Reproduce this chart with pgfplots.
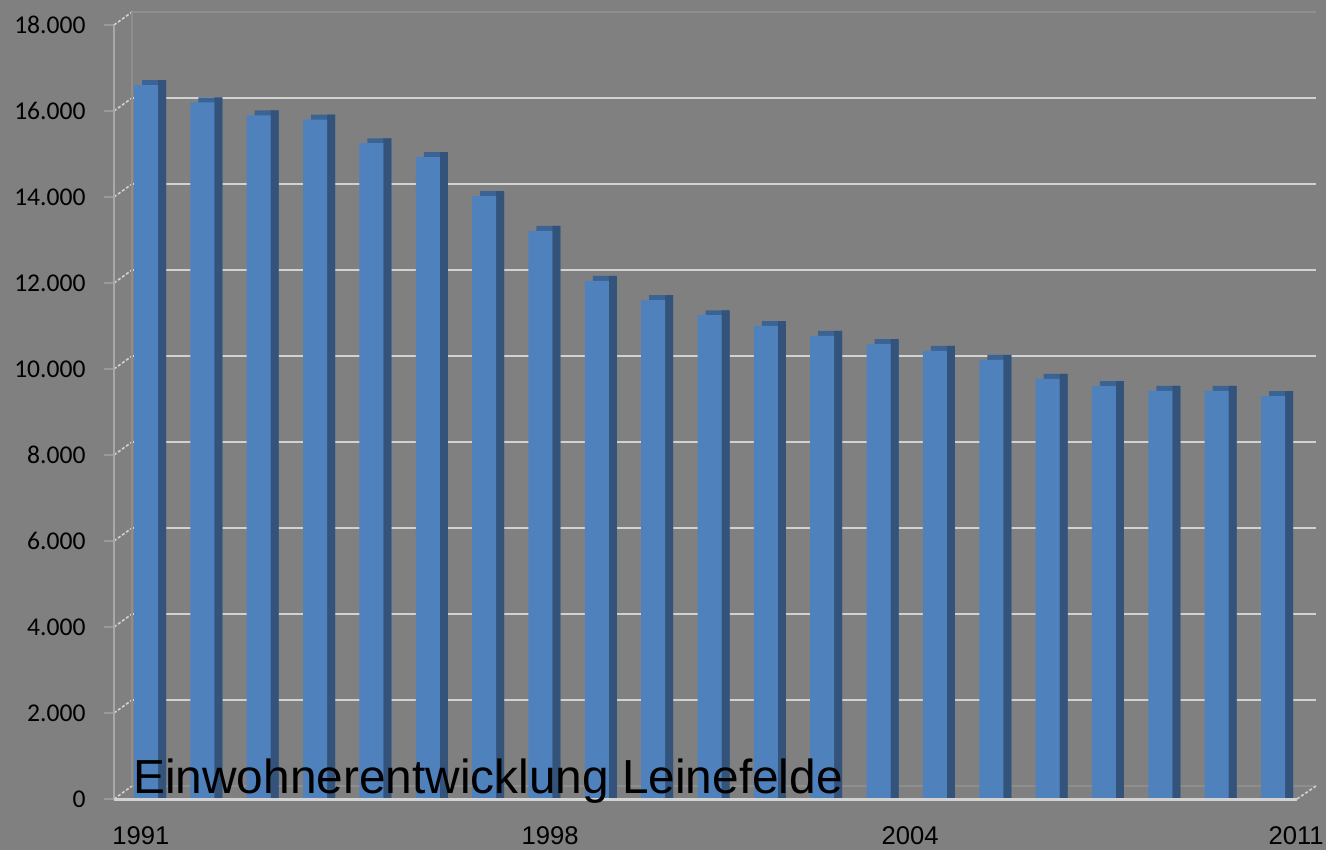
\documentclass[border=0pt]{standalone}
\usepackage{fontspec}
\setmainfont{Liberation Sans}
\newfontfamily\carlito{Carlito}
\usepackage{pgfplots}
\usepackage{pgfplotstable}
\pgfplotsset{compat=1.18}
\definecolor{bg}{HTML}{808080}
\definecolor{frontc}{HTML}{4F81BD}
\definecolor{sidec}{HTML}{34537B}
\definecolor{topc}{HTML}{3B6495}
\definecolor{gridc}{HTML}{D2D2D2}
\definecolor{faintc}{HTML}{8E8E8E}
\definecolor{axc}{HTML}{A8A8A8}
\definecolor{tickc}{HTML}{9A9A9A}

\pgfplotstableread{
i year v
0 1991 16600
1 1992 16200
2 1993 15900
3 1994 15800
4 1995 15250
5 1996 14930
6 1997 14020
7 1998 13210
8 1999 12050
9 2000 11600
10 2001 11250
11 2002 11000
12 2003 10770
13 2004 10580
14 2005 10420
15 2006 10210
16 2007 9770
17 2008 9600
18 2009 9490
19 2010 9490
20 2011 9370
}\data

\begin{document}
\begin{tikzpicture}
\fill[bg] (-57pt,-25.5pt) rectangle (606pt,399.5pt);
\useasboundingbox (-57pt,-25.5pt) rectangle (606pt,399.5pt);
\begin{axis}[
  at={(0pt,0pt)}, anchor=south west,
  scale only axis, width=591.5pt, height=387pt,
  xmin=-0.568, xmax=20.426, ymin=0, ymax=18000,
  clip=false,
  axis line style={draw=none},
  scaled y ticks=false,
  ytick={0,2000,4000,6000,8000,10000,12000,14000,16000,18000},
  ytick pos=left,
  tick align=outside,
  major tick length=5pt,
  ytick style={draw=tickc, line width=1pt},
  xtick={-0.09,7.17,13.56,20.41},
  xticklabels={1991,1998,2004,2011},
  xtick style={draw=none},
  xtick pos=bottom,
  /pgf/number format/assume math mode=true,
  yticklabel={\pgfmathprintnumber[fixed,1000 sep={.}]{\tick}},
  yticklabel style={font=\carlito\fontsize{12.8}{15}\selectfont, inner sep=0pt, xshift=-9pt, text=black},
  xticklabel style={font=\fontsize{12.8}{15}\selectfont, inner sep=0pt, yshift=-8.5pt, text=black},
]
% back wall gridlines
\pgfplotsinvokeforeach{2000,4000,6000,8000,10000,12000,14000,16000}{
  \draw[gridc, line width=1pt] ([xshift=9pt,yshift=6.5pt]axis cs:-0.568,#1) -- ([xshift=9.5pt,yshift=6.5pt]axis cs:20.426,#1);
}
\pgfplotsinvokeforeach{0,18000}{
  \draw[faintc, line width=1pt] ([xshift=9pt,yshift=6.5pt]axis cs:-0.568,#1) -- ([xshift=9.5pt,yshift=6.5pt]axis cs:20.426,#1);
}
\pgfplotsinvokeforeach{0,2000,4000,6000,8000,10000,12000,14000,16000,18000}{
  \draw[gridc, line width=0.8pt, dash pattern=on 1.5pt off 1pt] (axis cs:-0.568,#1) -- ([xshift=9pt,yshift=6.5pt]axis cs:-0.568,#1);
}
\draw[faintc, line width=1pt] ([xshift=9pt,yshift=6.5pt]axis cs:-0.568,0) -- ([xshift=9pt,yshift=6.5pt]axis cs:-0.568,18000);
% bars
\addplot[ybar, bar width=12pt, bar shift=4pt, fill=topc, draw=none] table[x=i, y expr=\thisrow{v}+116] {\data};
\addplot[ybar, bar width=4pt, bar shift=8pt, fill=sidec, draw=none] table[x=i, y expr=\thisrow{v}+116] {\data};
\addplot[ybar, bar width=12pt, bar shift=0pt, fill=frontc, draw=none] table[x=i, y=v] {\data};
% front axis and floor
\draw[axc, line width=1pt] (axis cs:-0.568,0) -- (axis cs:-0.568,18000);
\draw[gridc, line width=1.5pt] (axis cs:-0.568,0) -- (axis cs:20.426,0);
\draw[gridc, line width=0.8pt, dash pattern=on 1.5pt off 1pt] (axis cs:20.426,0) -- ([xshift=9.5pt,yshift=6.5pt]axis cs:20.426,0);
% title
\node[anchor=base west, inner sep=0pt, font=\fontsize{23.9}{28}\selectfont, text=black] at ([xshift=9.5pt,yshift=3pt]axis cs:-0.568,0) {Einwohnerentwicklung Leinefelde};
\end{axis}
\end{tikzpicture}
\end{document}
